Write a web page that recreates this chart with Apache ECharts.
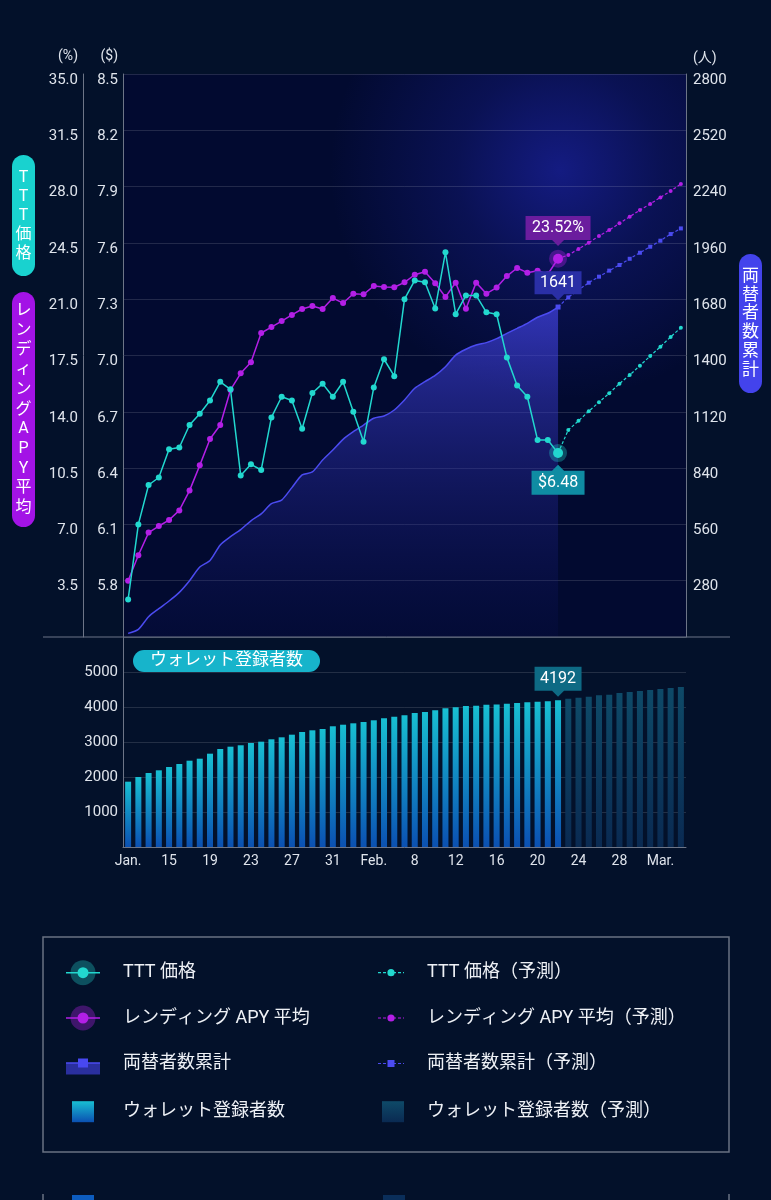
<!DOCTYPE html>
<html>
<head>
<meta charset="utf-8">
<title>TTT 価格 / レンディング APY / 両替者数</title>
<script src="https://cdn.jsdelivr.net/npm/echarts@6.0.0/dist/echarts.min.js"></script>
<style>
  html, body { margin: 0; padding: 0; background: #03112a; }
  #chart { width: 771px; height: 1200px; }
</style>
</head>
<body>
<div id="chart"></div>
<script>
// categories: Jan 11 - Mar 6, one per day
const dates = [
  '1/11', '1/12', '1/13', '1/14', '1/15', '1/16', '1/17', '1/18', '1/19', '1/20', '1/21',
  '1/22', '1/23', '1/24', '1/25', '1/26', '1/27', '1/28', '1/29', '1/30', '1/31',
  '2/1', '2/2', '2/3', '2/4', '2/5', '2/6', '2/7', '2/8', '2/9', '2/10', '2/11', '2/12', '2/13', '2/14',
  '2/15', '2/16', '2/17', '2/18', '2/19', '2/20', '2/21', '2/22', '2/23', '2/24', '2/25', '2/26', '2/27', '2/28',
  '3/1', '3/2', '3/3', '3/4', '3/5', '3/6'
];
const monthNames = ['Jan.', 'Feb.', 'Mar.'];

// TTT 価格 ($), Jan 11 - Feb 22
const tttPrice = [
  5.70, 6.10, 6.31, 6.35, 6.50, 6.51, 6.63, 6.69, 6.76, 6.86, 6.82, 6.36, 6.42, 6.39, 6.67,
  6.78, 6.76, 6.61, 6.80, 6.85, 6.78, 6.86, 6.70, 6.54, 6.83, 6.98, 6.89, 7.30, 7.40, 7.39,
  7.25, 7.55, 7.22, 7.32, 7.32, 7.23, 7.22, 6.99, 6.84, 6.78, 6.55, 6.55, 6.48
];
// Feb 23 - Mar 6
const tttForecast = [6.603, 6.652, 6.703, 6.751, 6.799, 6.850, 6.896, 6.946, 6.997, 7.047, 7.099, 7.148];

// レンディング APY 平均 (%)
const apyAvg = [
  3.50, 5.08, 6.49, 6.90, 7.27, 7.87, 9.10, 10.67, 12.31, 13.18, 15.36, 16.39, 17.08, 18.90, 19.27,
  19.64, 20.02, 20.39, 20.58, 20.39, 21.07, 20.76, 21.34, 21.30, 21.82, 21.76, 21.74, 22.05, 22.52, 22.71,
  21.99, 21.14, 22.03, 20.41, 22.03, 21.34, 21.72, 22.44, 22.94, 22.65, 22.77, 22.55, 23.52
];
const apyForecast = [23.75, 24.12, 24.51, 24.93, 25.30, 25.72, 26.13, 26.54, 26.92, 27.33, 27.73, 28.16];

// 両替者数累計 (人)
const exchangers = [
  18, 38, 101, 141, 179, 222, 280, 348, 381, 458, 499, 534, 578, 612, 663,
  681, 743, 806, 821, 880, 930, 983, 1021, 1054, 1088, 1099, 1129, 1179, 1237, 1270,
  1301, 1344, 1402, 1431, 1452, 1464, 1484, 1510, 1535, 1560, 1590, 1610, 1641
];
const exchangersForecast = [1689, 1726, 1762, 1792, 1822, 1850, 1881, 1911, 1941, 1971, 2004, 2032];

// ウォレット登録者数
const wallets = [
  1866, 2000, 2114, 2191, 2286, 2371, 2466, 2523, 2666, 2800, 2866, 2906, 2971, 3009, 3077,
  3134, 3209, 3286, 3334, 3371, 3449, 3494, 3534, 3571, 3620, 3677, 3723, 3763, 3829, 3857,
  3906, 3963, 3991, 4029, 4037, 4066, 4070, 4094, 4114, 4134, 4151, 4163, 4192
];
const walletsForecast = [4237, 4266, 4294, 4334, 4351, 4400, 4429, 4457, 4486, 4514, 4543, 4571];

const FONT = 'Roboto, "Noto Sans CJK JP", sans-serif';
const AXIS_GREY = '#6d7587';
const SPLIT = 'rgba(255,255,255,0.13)';
const LABEL = '#dfe4ec';
const CYAN = '#22d8cf';
const PURPLE = '#b31fe6';
const BLUE = '#4b4bf0';

const last = tttPrice.length - 1;
const blanks = n => new Array(n).fill('-');

function withHalo(arr, halo) {
  return arr.map((v, i) => i === arr.length - 1
    ? { value: v, symbolSize: 10, itemStyle: { borderColor: halo, borderWidth: 8 } }
    : v);
}
function forecastData(actual, fc, first) {
  return blanks(actual.length - 1).concat([Object.assign({ value: actual[actual.length - 1] }, first)], fc);
}

// callout box with a small pointer
function calloutPath(w, h, down) {
  const m = w / 2;
  return down
    ? `path://M0,0H${w}V${h}H${m + 6}L${m},${h + 6}L${m - 6},${h}H0Z`
    : `path://M0,6H${m - 6}L${m},0L${m + 6},6H${w}V${h + 6}H0Z`;
}
function callout(coord, text, color, w, h, down, gapPx) {
  const off = (gapPx + (h + 6) / 2) * (down ? -1 : 1);
  return {
    silent: true,
    data: [{
      coord: coord,
      symbol: calloutPath(w, h, down),
      symbolSize: [w, h + 6],
      symbolOffset: [0, off],
      itemStyle: { color: color },
      label: {
        show: true, position: 'inside', formatter: text, color: '#fff',
        fontSize: 16, fontFamily: FONT, offset: [0, down ? -3 : 3]
      }
    }]
  };
}

function svgIcon(w, h, body) {
  return 'image://data:image/svg+xml;charset=utf-8,' + encodeURIComponent(
    `<svg xmlns="http://www.w3.org/2000/svg" width="${w}" height="${h}" viewBox="0 0 ${w} ${h}">${body}</svg>`);
}
const haloIcon = (c, halo) => svgIcon(34, 26,
  `<line x1="0" y1="13" x2="34" y2="13" stroke="${c}" stroke-width="1.5"/>` +
  `<circle cx="17" cy="13" r="12.5" fill="${halo}"/><circle cx="17" cy="13" r="5.5" fill="${c}"/>`);
const dotIcon = (c, square) => svgIcon(26, 10,
  `<line x1="0" y1="5" x2="26" y2="5" stroke="${c}" stroke-width="1.2" stroke-dasharray="3,2"/>` +
  (square ? `<rect x="9.5" y="1.5" width="7" height="7" fill="${c}"/>` : `<circle cx="13" cy="5" r="3.6" fill="${c}"/>`));
const areaIcon = svgIcon(34, 26,
  `<rect x="0" y="12.5" width="34" height="11.5" fill="#2a2f9e"/>` +
  `<line x1="0" y1="12.5" x2="34" y2="12.5" stroke="${BLUE}" stroke-width="1.5"/>` +
  `<rect x="12" y="8" width="10" height="9" fill="#4848f2"/>`);

const legendRows = [
  { name: 'TTT 価格', left: 66, c: 972.7, w: 34, h: 26, pad: 18, icon: haloIcon(CYAN, 'rgba(34,216,207,0.32)') },
  { name: 'レンディング APY 平均', left: 66, c: 1018, w: 34, h: 26, pad: 18, icon: haloIcon(PURPLE, 'rgba(179,31,230,0.35)') },
  { name: '両替者数累計', left: 66, c: 1063.5, w: 34, h: 26, pad: 18, icon: areaIcon },
  { name: 'ウォレット登録者数', left: 72, c: 1111.7, w: 22, h: 21, pad: 24, icon: 'rect' },
  { name: 'TTT 価格（予測）', left: 378, c: 972.7, w: 26, h: 10, pad: 18, icon: dotIcon(CYAN) },
  { name: 'レンディング APY 平均（予測）', left: 378, c: 1018, w: 26, h: 10, pad: 18, icon: dotIcon(PURPLE) },
  { name: '両替者数累計（予測）', left: 378, c: 1063.5, w: 26, h: 10, pad: 18, icon: dotIcon(BLUE, true) },
  { name: 'ウォレット登録者数（予測）', left: 382, c: 1111.7, w: 22, h: 21, pad: 18, icon: 'rect' }
];

function pill(x, y, w, h, fill, text, fs, lh) {
  return {
    type: 'group',
    children: [
      { type: 'rect', shape: { x: x, y: y, width: w, height: h, r: Math.min(w, h) / 2 }, style: { fill: fill } },
      {
        type: 'text', x: x + w / 2, y: y + h / 2,
        style: { text: text, fill: '#fff', font: `${fs}px ${FONT}`, align: 'center', verticalAlign: 'middle', lineHeight: lh }
      }
    ]
  };
}

// labels of the upper chart sit a little below their grid line
const lowLabel = { verticalAlign: 'top', lineHeight: 12 };

const chart = echarts.init(document.getElementById('chart'));

const option = {
  animation: false,
  backgroundColor: '#03112a',
  textStyle: { fontFamily: FONT },
  grid: [
    { left: 123, top: 74, width: 563, height: 563, outerBoundsMode: 'none' },
    { left: 123, top: 637, width: 563, height: 210, outerBoundsMode: 'none' }
  ],
  legend: legendRows.map(r => ({
    left: r.left,
    top: r.c - Math.max(r.h, 22) / 2,
    orient: 'vertical',
    padding: 0,
    itemGap: 0,
    itemWidth: r.w,
    itemHeight: r.h,
    selectedMode: false,
    data: [{ name: r.name, icon: r.icon }],
    textStyle: { color: '#eef1f6', fontSize: 18, fontFamily: FONT, lineHeight: 22, padding: [0, 0, 0, r.pad] }
  })),
  xAxis: [
    { type: 'category', gridIndex: 0, data: dates, show: false },
    {
      type: 'category', gridIndex: 1, data: dates,
      axisLine: { lineStyle: { color: AXIS_GREY } },
      axisTick: { alignWithLabel: true, interval: 3, length: 5, lineStyle: { color: AXIS_GREY } },
      axisLabel: {
        interval: 3, color: LABEL, fontSize: 14, margin: 7,
        formatter: (v, i) => {
          const [m, d] = v.split('/');
          return (i === 0 || +d <= 4) ? monthNames[m - 1] : d;
        }
      }
    }
  ],
  yAxis: [
    {
      type: 'value', gridIndex: 0, position: 'left', offset: 40,
      min: 0, max: 35, interval: 3.5,
      name: '(%)', nameLocation: 'end', nameGap: 11,
      nameTextStyle: { color: LABEL, fontSize: 14, align: 'right', padding: [0, 5, 0, 0] },
      axisLine: { show: true, lineStyle: { color: AXIS_GREY } },
      axisTick: { show: false },
      splitLine: { show: false },
      axisLabel: Object.assign({
        color: LABEL, fontSize: 15, margin: 5, showMinLabel: false, formatter: v => v.toFixed(1)
      }, lowLabel)
    },
    {
      type: 'value', gridIndex: 0, position: 'left',
      min: 5.5, max: 8.5, interval: 0.3,
      name: '($)', nameLocation: 'end', nameGap: 11,
      nameTextStyle: { color: LABEL, fontSize: 14, align: 'right', padding: [0, 5, 0, 0] },
      axisLine: { show: true, lineStyle: { color: AXIS_GREY } },
      axisTick: { show: false },
      splitLine: { show: true, lineStyle: { color: SPLIT } },
      axisLabel: Object.assign({
        color: LABEL, fontSize: 15, margin: 5, showMinLabel: false, formatter: v => v.toFixed(1)
      }, lowLabel)
    },
    {
      type: 'value', gridIndex: 0, position: 'right',
      min: 0, max: 2800, interval: 280,
      name: '(人)', nameLocation: 'end', nameGap: 9,
      nameTextStyle: { color: LABEL, fontSize: 14, align: 'left', padding: [0, 0, 0, 7] },
      axisLine: { show: true, lineStyle: { color: AXIS_GREY } },
      axisTick: { show: false },
      splitLine: { show: false },
      axisLabel: Object.assign({
        color: LABEL, fontSize: 15, margin: 7, showMinLabel: false, formatter: v => String(v)
      }, lowLabel)
    },
    {
      type: 'value', gridIndex: 1, position: 'left',
      min: 0, max: 6000, interval: 1000,
      axisLine: { show: true, lineStyle: { color: AXIS_GREY } },
      axisTick: { show: false },
      splitLine: { show: true, lineStyle: { color: SPLIT } },
      axisLabel: { color: LABEL, fontSize: 15, margin: 5, showMinLabel: false, showMaxLabel: false, formatter: v => String(v) }
    }
  ],
  series: [
    {
      name: '両替者数累計', type: 'line', xAxisIndex: 0, yAxisIndex: 2,
      data: exchangers, smooth: 0.25, symbol: 'none', z: 2,
      lineStyle: { color: BLUE, width: 1.5 },
      itemStyle: { color: BLUE },
      areaStyle: {
        color: new echarts.graphic.LinearGradient(0, 0, 0, 1, [
          { offset: 0, color: 'rgba(72,72,240,0.92)' },
          { offset: 1, color: 'rgba(20,24,120,0.12)' }
        ])
      },
      markPoint: callout([dates[last], exchangers[last]], String(exchangers[last]), '#2a2fa6', 47, 23, true, 6.7)
    },
    {
      name: '両替者数累計（予測）', type: 'line', xAxisIndex: 0, yAxisIndex: 2,
      data: forecastData(exchangers, exchangersForecast, { symbolSize: 5 }),
      symbol: 'rect', symbolSize: 4, z: 3,
      lineStyle: { color: BLUE, width: 1.2, type: [3, 2] },
      itemStyle: { color: BLUE, borderWidth: 0 }
    },
    {
      name: 'レンディング APY 平均', type: 'line', xAxisIndex: 0, yAxisIndex: 0,
      data: withHalo(apyAvg, 'rgba(179,31,230,0.35)'),
      symbol: 'circle', symbolSize: 6, z: 4,
      lineStyle: { color: PURPLE, width: 1.5 },
      itemStyle: { color: PURPLE, borderWidth: 0 },
      markPoint: callout([dates[last], apyAvg[last]], apyAvg[last].toFixed(2) + '%', '#6b1d9e', 65, 24, true, 12.6)
    },
    {
      name: 'レンディング APY 平均（予測）', type: 'line', xAxisIndex: 0, yAxisIndex: 0,
      data: forecastData(apyAvg, apyForecast, { symbol: 'none' }),
      symbol: 'circle', symbolSize: 4, z: 3,
      lineStyle: { color: PURPLE, width: 1.2, type: [3, 2] },
      itemStyle: { color: PURPLE, borderWidth: 0 }
    },
    {
      name: 'TTT 価格', type: 'line', xAxisIndex: 0, yAxisIndex: 1,
      data: withHalo(tttPrice, 'rgba(34,216,207,0.32)'),
      symbol: 'circle', symbolSize: 6, z: 5,
      lineStyle: { color: CYAN, width: 1.5 },
      itemStyle: { color: CYAN, borderWidth: 0 },
      markPoint: callout([dates[last], tttPrice[last]], '$' + tttPrice[last].toFixed(2), '#0f8ca3', 53, 24, false, 11.7)
    },
    {
      name: 'TTT 価格（予測）', type: 'line', xAxisIndex: 0, yAxisIndex: 1,
      data: forecastData(tttPrice, tttForecast, { symbol: 'none' }),
      symbol: 'circle', symbolSize: 4, z: 3,
      lineStyle: { color: CYAN, width: 1.2, type: [3, 2] },
      itemStyle: { color: CYAN, borderWidth: 0 }
    },
    {
      name: 'ウォレット登録者数', type: 'bar', xAxisIndex: 1, yAxisIndex: 3,
      data: wallets, barWidth: 6,
      itemStyle: {
        color: new echarts.graphic.LinearGradient(0, 0, 0, 1, [
          { offset: 0, color: '#18bfd2' }, { offset: 1, color: '#0b50b2' }
        ])
      },
      markPoint: callout([dates[last], wallets[last]], String(wallets[last]), '#0e6a84', 47, 24, true, 3.6)
    },
    {
      name: 'ウォレット登録者数（予測）', type: 'bar', xAxisIndex: 1, yAxisIndex: 3,
      data: blanks(wallets.length).concat(walletsForecast), barWidth: 6, barGap: '-100%',
      itemStyle: {
        color: new echarts.graphic.LinearGradient(0, 0, 0, 1, [
          { offset: 0, color: '#0e4a68' }, { offset: 1, color: '#0a2a52' }
        ])
      }
    }
  ],
  graphic: [
    // plot background and glow
    { type: 'rect', z: -2, silent: true, shape: { x: 123, y: 74, width: 563, height: 563 }, style: { fill: '#020a30' } },
    {
      type: 'rect', z: -1, silent: true, shape: { x: 123, y: 74, width: 563, height: 563 },
      style: {
        fill: new echarts.graphic.RadialGradient(560, 170, 230, [
          { offset: 0, color: 'rgba(38,44,210,0.5)' },
          { offset: 0.45, color: 'rgba(38,44,210,0.22)' },
          { offset: 1, color: 'rgba(38,44,210,0)' }
        ], true)
      }
    },
    { type: 'line', z: 5, silent: true, shape: { x1: 43, y1: 637, x2: 730, y2: 637 }, style: { stroke: AXIS_GREY, lineWidth: 1 } },
    pill(12, 155, 23, 121, '#19d2cf', 'T\nT\nT\n価\n格', 16, 19),
    pill(12, 292, 23, 235, '#a313e6', 'レ\nン\nデ\nィ\nン\nグ\nA\nP\nY\n平\n均', 16, 19.7),
    pill(739, 254, 23, 139, '#4343ec', '両\n替\n者\n数\n累\n計', 17, 18.7),
    pill(133, 650, 187, 22, '#17b4cb', 'ウォレット登録者数', 17, 20),
    // legend frame
    { type: 'rect', silent: true, shape: { x: 43, y: 937, width: 686, height: 215 }, style: { fill: 'none', stroke: '#6a7283', lineWidth: 1.5 } },
    // next panel, cut off at the bottom edge
    { type: 'line', silent: true, shape: { x1: 43, y1: 1194, x2: 43, y2: 1200 }, style: { stroke: '#6a7283', lineWidth: 1.5 } },
    { type: 'line', silent: true, shape: { x1: 729, y1: 1194, x2: 729, y2: 1200 }, style: { stroke: '#6a7283', lineWidth: 1.5 } },
    { type: 'rect', silent: true, shape: { x: 72, y: 1195, width: 22, height: 5 }, style: { fill: '#0d5cbf' } },
    { type: 'rect', silent: true, shape: { x: 383, y: 1195, width: 22, height: 5 }, style: { fill: '#0a2e5a' } }
  ]
};

chart.setOption(option);
</script>
</body>
</html>
